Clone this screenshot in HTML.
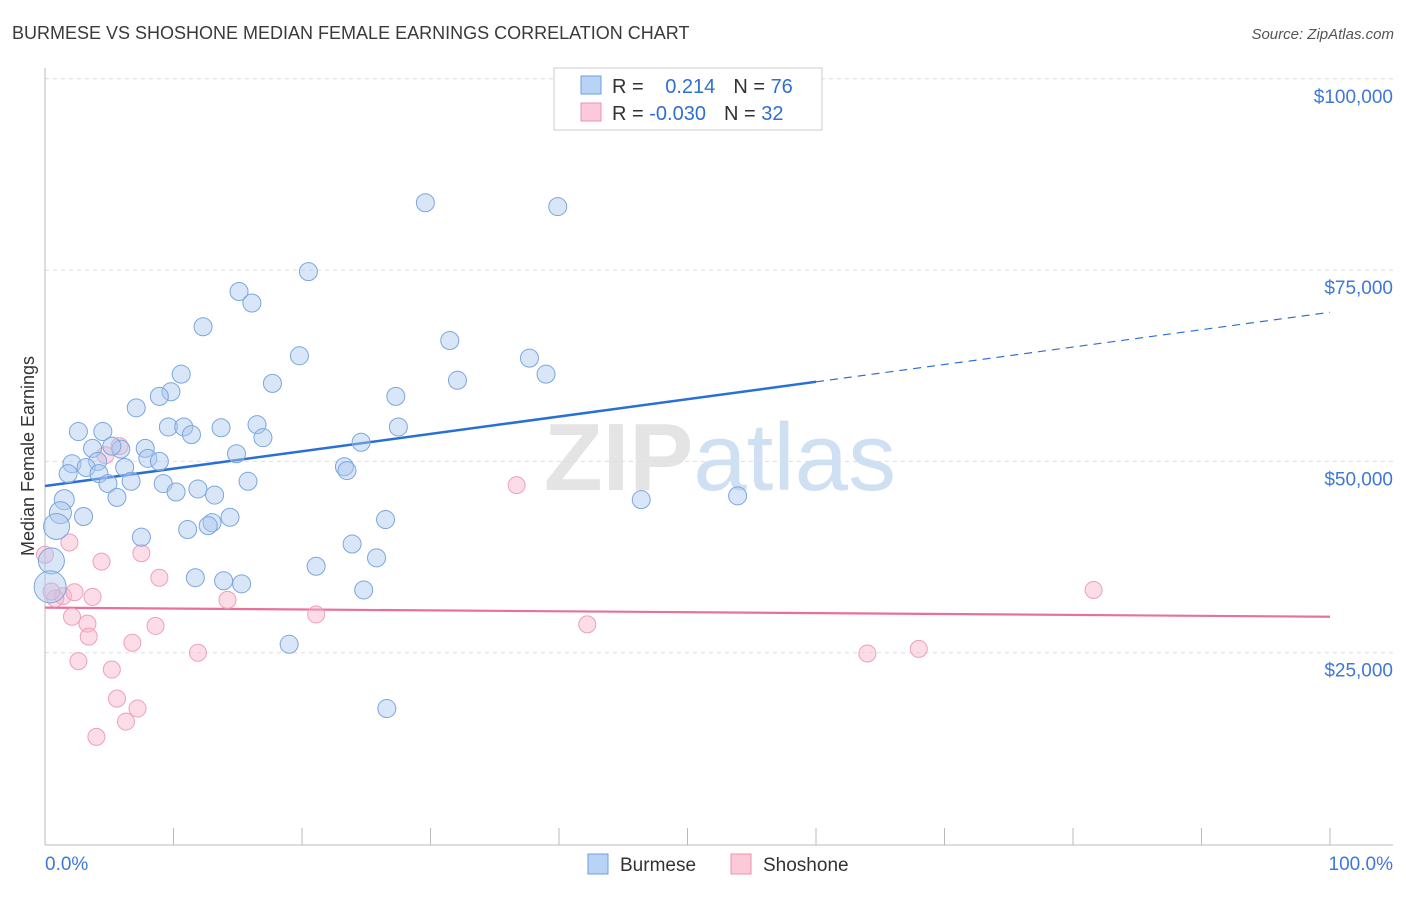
<!DOCTYPE html>
<html><head><meta charset="utf-8"><style>
body{margin:0;background:#fff;font-family:"Liberation Sans",sans-serif;}
svg text{font-family:"Liberation Sans",sans-serif;}
</style></head><body>
<svg id="chart" width="1406" height="892" viewBox="0 0 1406 892" xmlns="http://www.w3.org/2000/svg">
<text x="12" y="39" font-size="18" fill="#3a3a3a">BURMESE VS SHOSHONE MEDIAN FEMALE EARNINGS CORRELATION CHART</text>
<text x="1394" y="39" font-size="15" fill="#555" text-anchor="end" font-style="italic">Source: ZipAtlas.com</text>
<text x="720" y="490" font-size="96" fill="#e4e4e4" text-anchor="middle" font-weight="bold">ZIP<tspan fill="#cfe0f3" font-weight="normal">atlas</tspan></text>
<g id="grid"></g>
<g id="axes"></g>
<g id="trends"></g>
<g id="pts"></g>
<text transform="translate(34,456) rotate(-90)" font-size="18" fill="#333" text-anchor="middle">Median Female Earnings</text>
<g>
<rect x="554" y="68" width="268" height="62" fill="#fff" stroke="#ccc"/>
<rect x="581" y="76" width="20" height="18" fill="#b8d3f5" stroke="#6f9fdc"/>
<rect x="581" y="103" width="20" height="18" fill="#fcc9d8" stroke="#e995b0"/>
<text x="612" y="93" font-size="20" fill="#333">R = <tspan fill="#2f6fd0" dx="16">0.214</tspan><tspan fill="#333" dx="18">N = </tspan><tspan fill="#2f6fd0">76</tspan></text>
<text x="612" y="120" font-size="20" fill="#333">R = <tspan fill="#2f6fd0">-0.030</tspan><tspan fill="#333" dx="18">N = </tspan><tspan fill="#2f6fd0">32</tspan></text>
</g>
<g>
<rect x="588" y="854" width="20" height="20" fill="#b8d3f5" stroke="#6f9fdc"/>
<text x="620" y="871" font-size="19" fill="#333">Burmese</text>
<rect x="731" y="854" width="20" height="20" fill="#fcc9d8" stroke="#e995b0"/>
<text x="763" y="871" font-size="19" fill="#333">Shoshone</text>
</g>
</svg>
<script>
const yTicks=[25000,50000,75000,100000];
const yTickLabels=["$25,000","$50,000","$75,000","$100,000"];
const xTickLabels=["0.0%","100.0%"];
const burmeseX=[29.6,39.9,20.5,15.1,16.1,12.3,31.5,19.8,37.7,38.99,10.6,32.1,17.7,9.8,8.9,27.3,7.1,16.5,27.5,9.6,10.8,13.7,2.6,4.5,11.4,16.96,3.7,5.9,7.8,24.6,5.2,14.9,8.0,8.9,4.1,2.1,3.2,6.2,23.3,23.5,1.8,4.2,4.9,6.7,9.2,15.8,10.2,11.9,13.2,5.6,46.4,53.9,1.5,1.2,3.0,14.4,26.5,13.0,12.7,11.1,0.9,7.5,23.9,25.8,0.5,21.1,11.7,13.9,15.3,24.8,0.4,19.0,26.6];
const burmeseY=[83800,83300,74800,72200,70700,67600,65800,63800,63500,61400,61400,60600,60200,59100,58500,58500,57000,54800,54500,54500,54500,54400,53900,53900,53500,53100,51700,51600,51700,52500,52000,51000,50400,50000,50000,49700,49200,49200,49300,48800,48400,48400,47100,47400,47100,47400,46000,46400,45600,45300,45000,45500,45000,43300,42800,42700,42400,42000,41600,41100,41500,40100,39200,37400,37000,36300,34800,34400,34000,33200,33600,26100,17700];
const burmeseR=[9,9,9,9,9,9,9,9,9,9,9,9,9,9,9,9,9,9,9,9,9,9,9,9,9,9,9,9,9,9,9,9,9,9,9,9,9,9,9,9,9,9,9,9,9,9,9,9,9,9,9,9,10,11,9,9,9,9,9,9,13,9,9,9,13,9,9,9,9,9,16,9,9];
const shoshoneX=[5.8,4.7,36.7,1.9,7.5,4.4,8.9,0,1.4,0.8,2.3,3.7,14.2,21.1,2.1,3.3,8.6,42.2,3.4,6.8,11.9,64.0,68.0,81.6,2.6,5.2,5.6,7.2,6.3,4.0,0.5];
const shoshoneY=[52000,50800,46900,39400,38000,36900,34800,37800,32400,32100,32900,32300,31900,30000,29700,28800,28500,28700,27100,26300,25000,24900,25500,33200,23900,22800,19000,17700,16000,14000,33000];
function xs(v){return 45+v*12.85;}
function ys(v){return 844-v/25000*191.3;}
const NS="http://www.w3.org/2000/svg";
function mk(p,t,a){const e=document.createElementNS(NS,t);for(const k in a)e.setAttribute(k,a[k]);p.appendChild(e);return e;}
const grid=document.getElementById('grid'),axes=document.getElementById('axes');
yTicks.forEach((t,i)=>{
 const l=mk(grid,'line',{x1:45,x2:1393,y1:ys(t),y2:ys(t),stroke:'#ddd','stroke-dasharray':'4,4'});
 
 
 const tx=mk(axes,'text',{x:1393,y:ys(t)+24,'font-size':19,fill:'#3f78d6','text-anchor':'end'});
 tx.textContent=yTickLabels[i];
 
 
});
mk(axes,'line',{x1:45,x2:45,y1:68,y2:845,stroke:'#bbb'});
mk(axes,'line',{x1:45,x2:1393,y1:845,y2:845,stroke:'#bbb'});
for(let i=0;i<=10;i++){const t=mk(axes,'line',{x1:xs(i*10),x2:xs(i*10),y1:828,y2:845,stroke:'#bbb'});
 
 }
const xl0=mk(axes,'text',{x:45,y:870,'font-size':19,fill:'#3f78d6'});xl0.textContent=xTickLabels[0];


const xl1=mk(axes,'text',{x:1393,y:870,'font-size':19,fill:'#3f78d6','text-anchor':'end'});xl1.textContent=xTickLabels[1];


const pts=document.getElementById('pts');
shoshoneX.forEach((x,i)=>{const c=mk(pts,'circle',{cx:xs(x),cy:ys(shoshoneY[i]),r:8.5,fill:'rgba(248,180,202,0.45)',stroke:'#eda0ba','stroke-width':1});
 
 });
burmeseX.forEach((x,i)=>{const c=mk(pts,'circle',{cx:xs(x),cy:ys(burmeseY[i]),r:burmeseR[i],fill:'rgba(170,200,240,0.45)',stroke:'#7aa6de','stroke-width':1});
 
 });
// trend lines via least squares
function fit(X,Y){const n=X.length;let mx=0,my=0;X.forEach((v,i)=>{mx+=v;my+=Y[i]});mx/=n;my/=n;let sxy=0,sxx=0;X.forEach((v,i)=>{sxy+=(v-mx)*(Y[i]-my);sxx+=(v-mx)**2});const b=sxy/sxx;return [my-b*mx,b];}
const tr=document.getElementById('trends');
const [ba,bb]=fit(burmeseX,burmeseY);
const bl=mk(tr,'line',{x1:xs(0),y1:ys(ba),x2:xs(60),y2:ys(ba+bb*60),stroke:'#2a6fd6','stroke-width':2.5});


const bd=mk(tr,'line',{x1:xs(60),y1:ys(ba+bb*60),x2:xs(100),y2:ys(ba+bb*100),stroke:'#2a6fd6','stroke-width':1.2,'stroke-dasharray':'8,6'});


const [sa,sb]=fit(shoshoneX,shoshoneY);
const sl=mk(tr,'line',{x1:xs(0),y1:ys(sa),x2:xs(100),y2:ys(sa+sb*100),stroke:'#e8709a','stroke-width':2.2});


</script>
</body></html>
